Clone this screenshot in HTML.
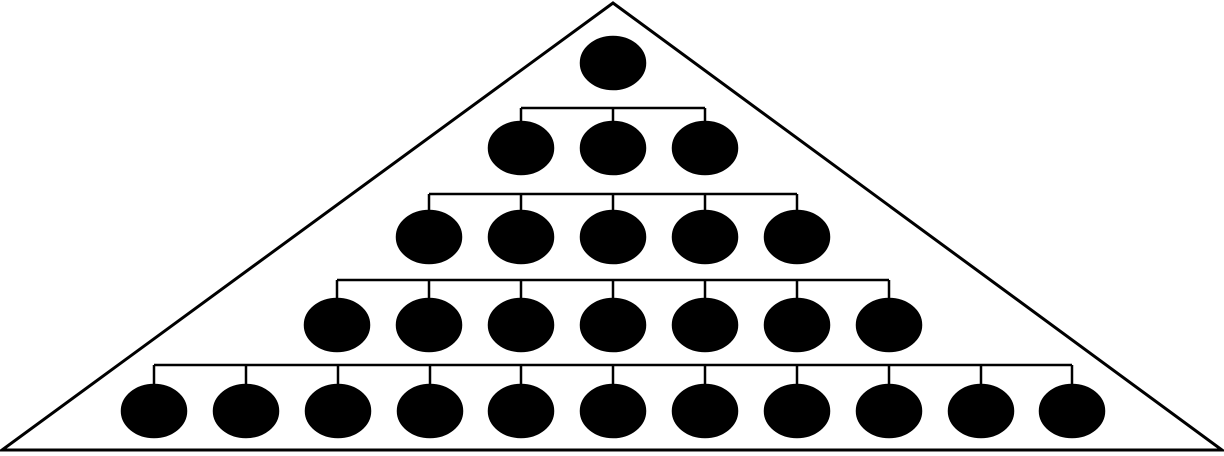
<!DOCTYPE html>
<html><head><meta charset="utf-8"><style>
html,body{margin:0;padding:0;background:#fff;}
svg{display:block;}
</style></head><body>
<svg width="1224" height="456" viewBox="0 0 1224 456" xmlns="http://www.w3.org/2000/svg">
<polygon points="613,3 2,450 1222,450" fill="none" stroke="#000" stroke-width="3" stroke-linejoin="miter"/>
<g fill="#000" stroke="#000" stroke-width="2.5">
<!-- row1 -->
<ellipse cx="613" cy="63" rx="32" ry="26"/>
<!-- row2 -->
<line x1="521" y1="108" x2="705" y2="108"/>
<line x1="521" y1="108" x2="521" y2="124"/><line x1="613" y1="108" x2="613" y2="124"/><line x1="705" y1="108" x2="705" y2="124"/>
<ellipse cx="521" cy="148" rx="32" ry="26"/><ellipse cx="613" cy="148" rx="32" ry="26"/><ellipse cx="705" cy="148" rx="32" ry="26"/>
<!-- row3 -->
<line x1="429" y1="194" x2="797" y2="194"/>
<line x1="429" y1="194" x2="429" y2="212"/><line x1="521" y1="194" x2="521" y2="212"/><line x1="613" y1="194" x2="613" y2="212"/><line x1="705" y1="194" x2="705" y2="212"/><line x1="797" y1="194" x2="797" y2="212"/>
<ellipse cx="429" cy="237" rx="32" ry="26"/><ellipse cx="521" cy="237" rx="32" ry="26"/><ellipse cx="613" cy="237" rx="32" ry="26"/><ellipse cx="705" cy="237" rx="32" ry="26"/><ellipse cx="797" cy="237" rx="32" ry="26"/>
<!-- row4 -->
<line x1="337" y1="280" x2="889" y2="280"/>
<line x1="337" y1="280" x2="337" y2="300"/><line x1="429" y1="280" x2="429" y2="300"/><line x1="521" y1="280" x2="521" y2="300"/><line x1="613" y1="280" x2="613" y2="300"/><line x1="705" y1="280" x2="705" y2="300"/><line x1="797" y1="280" x2="797" y2="300"/><line x1="889" y1="280" x2="889" y2="300"/>
<ellipse cx="337" cy="325" rx="32" ry="26"/><ellipse cx="429" cy="325" rx="32" ry="26"/><ellipse cx="521" cy="325" rx="32" ry="26"/><ellipse cx="613" cy="325" rx="32" ry="26"/><ellipse cx="705" cy="325" rx="32" ry="26"/><ellipse cx="797" cy="325" rx="32" ry="26"/><ellipse cx="889" cy="325" rx="32" ry="26"/>
<!-- row5 -->
<line x1="154" y1="365" x2="1072" y2="365"/>
<line x1="154" y1="365" x2="154" y2="386"/><line x1="246" y1="365" x2="246" y2="386"/><line x1="338" y1="365" x2="338" y2="386"/><line x1="430" y1="365" x2="430" y2="386"/><line x1="521" y1="365" x2="521" y2="386"/><line x1="613" y1="365" x2="613" y2="386"/><line x1="705" y1="365" x2="705" y2="386"/><line x1="797" y1="365" x2="797" y2="386"/><line x1="889" y1="365" x2="889" y2="386"/><line x1="981" y1="365" x2="981" y2="386"/><line x1="1072" y1="365" x2="1072" y2="386"/>
<ellipse cx="154" cy="411" rx="32" ry="26"/><ellipse cx="246" cy="411" rx="32" ry="26"/><ellipse cx="338" cy="411" rx="32" ry="26"/><ellipse cx="430" cy="411" rx="32" ry="26"/><ellipse cx="521" cy="411" rx="32" ry="26"/><ellipse cx="613" cy="411" rx="32" ry="26"/><ellipse cx="705" cy="411" rx="32" ry="26"/><ellipse cx="797" cy="411" rx="32" ry="26"/><ellipse cx="889" cy="411" rx="32" ry="26"/><ellipse cx="981" cy="411" rx="32" ry="26"/><ellipse cx="1072" cy="411" rx="32" ry="26"/>
</g>
</svg>
</body></html>
